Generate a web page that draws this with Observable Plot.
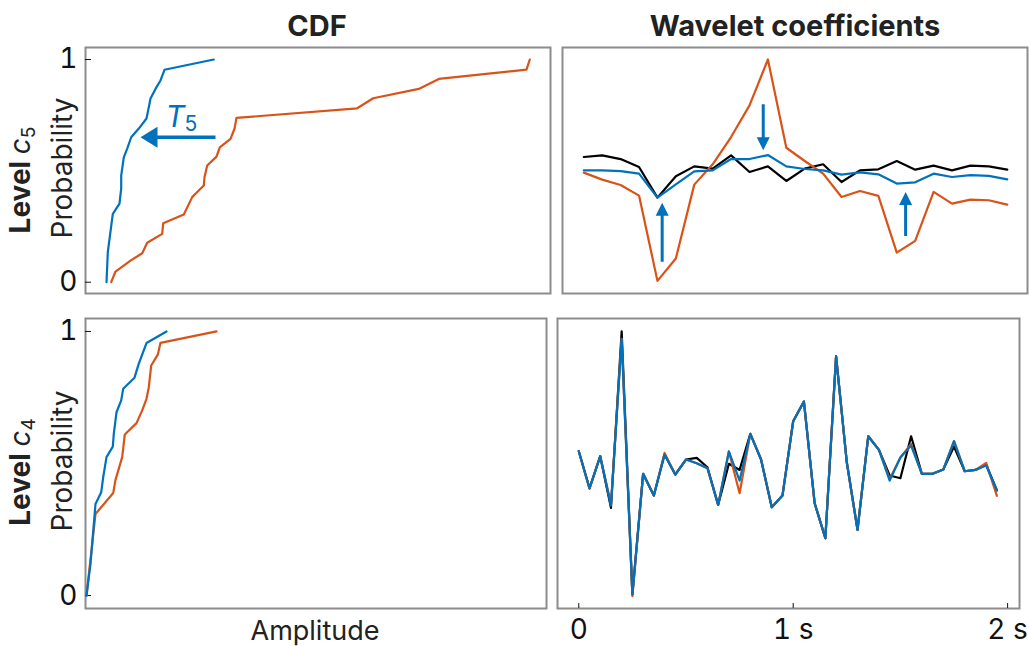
<!DOCTYPE html>
<html><head><meta charset="utf-8">
<script src="https://cdn.jsdelivr.net/npm/d3@7"></script>
<script src="https://cdn.jsdelivr.net/npm/@observablehq/plot@0.6"></script>
<style>
html,body{margin:0;padding:0;background:#fff;}
#fig{position:relative;width:1029px;height:646px;overflow:hidden;font-family:Inter, sans-serif;color:#222;}
.abs{position:absolute;white-space:nowrap;line-height:1;}
.title{font-weight:700;font-size:29px;transform:translate(-50%,-50%);}
.ylab{font-size:28px;transform:translate(-50%,-50%) rotate(-90deg);}
.lev{font-size:28px;font-weight:700;transform:translate(-50%,-50%) rotate(-90deg);}
.lev i{font-weight:400;}
.lev sub{font-weight:400;font-size:19px;vertical-align:-5px;}
.xlab{font-size:27px;transform:translate(-50%,-50%);}
</style></head><body><div id="fig"></div><script>
const BLUE = "#0072BD", ORANGE = "#D95319", BLACK = "#000000";

// ---- Level c5 CDF (amplitude, probability) ----
const c5BlueAmp  = [0.21,0.223,0.273,0.34,0.357,0.357,0.383,0.417,0.457,0.533,0.61,0.633,0.65,0.71,0.75,0.79,1.283];
const c5BlueProb = [0,0.135,0.307,0.353,0.421,0.479,0.561,0.600,0.651,0.690,0.735,0.786,0.825,0.876,0.906,0.954,1.0];
const c5OrangeAmp  = [0.257,0.30,0.45,0.567,0.617,0.767,0.777,0.983,1.067,1.10,1.183,1.19,1.217,1.31,1.343,1.45,1.49,1.51,2.717,2.877,3.333,3.533,4.41,4.443];
const c5OrangeProb = [0,0.048,0.097,0.130,0.177,0.217,0.265,0.304,0.382,0.397,0.434,0.471,0.524,0.564,0.606,0.644,0.689,0.738,0.781,0.826,0.868,0.913,0.955,1.0];

// ---- Level c4 CDF ----
const c4BlueAmp  = [0.01,0.05,0.10,0.157,0.177,0.21,0.273,0.283,0.31,0.357,0.377,0.49,0.533,0.61,0.81];
const c4BlueProb = [0,0.120,0.347,0.391,0.448,0.524,0.564,0.612,0.694,0.739,0.783,0.825,0.878,0.956,1.0];
const c4OrangeAmp  = [0.01,0.10,0.277,0.30,0.367,0.393,0.51,0.567,0.61,0.633,0.657,0.723,0.75,1.31];
const c4OrangeProb = [0,0.309,0.388,0.438,0.524,0.610,0.653,0.701,0.745,0.789,0.871,0.912,0.957,1.0];

// ---- Level c5 wavelet coefficients (24 samples) ----
const c5Index = [0,1,2,3,4,5,6,7,8,9,10,11,12,13,14,15,16,17,18,19,20,21,22,23];
const c5Black  = [0.146,0.160,0.128,0.058,-0.210,-0.023,0.064,0.044,0.160,0.015,0.064,-0.064,0.044,0.082,-0.073,0.029,0.038,0.111,0.035,0.070,0.029,0.070,0.064,0.035];
const c5Blue   = [0.029,0.029,0.023,0,-0.210,-0.093,0.020,0.029,0.128,0.128,0.163,0.064,0.041,0.029,-0.009,0.012,-0.006,-0.087,-0.076,0,-0.029,-0.012,-0.020,-0.050];
const c5Orange = [0.009,-0.052,-0.099,-0.192,-0.939,-0.743,-0.096,0.082,0.321,0.598,1.0,0.227,0.111,0,-0.204,-0.152,-0.195,-0.691,-0.589,-0.160,-0.262,-0.227,-0.233,-0.271];

// ---- Level c4 wavelet coefficients (40 samples, seconds) ----
const c4Time = [0,0.05,0.1,0.15,0.2,0.25,0.3,0.35,0.4,0.45,0.5,0.55,0.6,0.65,0.7,0.75,0.8,0.85,0.9,0.95,1.0,1.05,1.1,1.15,1.2,1.25,1.3,1.35,1.4,1.45,1.5,1.55,1.6,1.65,1.7,1.75,1.8,1.85,1.9,1.95];
const c4Black  = [0.123,-0.162,0.085,-0.313,1.046,-0.979,-0.051,-0.218,0.097,-0.056,0.059,0.072,0,-0.290,0.026,-0.021,0.256,0.059,-0.308,-0.218,0.354,0.505,-0.277,-0.546,0.854,0.038,-0.482,0.238,0.133,-0.064,-0.085,0.238,-0.051,-0.051,-0.018,0.159,-0.031,-0.021,0.021,-0.179];
const c4Orange = [0.123,-0.167,0.085,-0.282,0.987,-0.992,-0.051,-0.218,0.110,-0.056,0.059,0.031,-0.008,-0.290,0.121,-0.200,0.256,0.064,-0.308,-0.218,0.354,0.505,-0.277,-0.546,0.854,0.038,-0.482,0.238,0.133,-0.090,0.072,0.179,-0.051,-0.051,-0.018,0.200,-0.031,-0.021,0.033,-0.221];
const c4Blue   = [0.123,-0.162,0.085,-0.295,0.987,-0.979,-0.051,-0.218,0.097,-0.056,0.059,0.031,-0.008,-0.290,0.121,-0.103,0.256,0.059,-0.308,-0.218,0.354,0.505,-0.277,-0.546,0.854,0.038,-0.482,0.238,0.133,-0.103,0.077,0.167,-0.051,-0.051,-0.018,0.200,-0.031,-0.021,0.013,-0.179];

// ---- tick labels & annotations ----
const probTicks = [0, 1];
const timeTicks = [0, 1, 2];
const timeTickLabels = ["0", "1 s", "2 s"];
const cdfArrow = [{x: 0.55, y: 0.651, len: 75, rot: -90}];
const coefArrows = [
  {x: 4.257, y: -0.254, len: 59, rot: 0},
  {x: 9.746, y: 0.204, len: 46, rot: 180},
  {x: 17.48, y: -0.160, len: 44, rot: 0}
];
const tLabel = [{x: 0.80, y: 0.699, t: "T"}];
const tSub = [{x: 0.99, y: 0.677, t: "5"}];

const zip = (xs, ys) => xs.map((x, i) => ({x, y: ys[i]}));

function arrowShape(headLen, headW, shaftW) {
  return {draw(ctx, l) {
    const b = l - headLen, s = shaftW / 2, h = headW / 2;
    ctx.moveTo(-s, 0); ctx.lineTo(-s, -b); ctx.lineTo(-h, -b); ctx.lineTo(0, -l);
    ctx.lineTo(h, -b); ctx.lineTo(s, -b); ctx.lineTo(s, 0); ctx.closePath();
  }};
}

const baseStyle = {fontFamily: "Inter, sans-serif", fontSize: "28px", color: "#111", background: "transparent", overflow: "visible"};
const frameMark = () => Plot.frame({stroke: "#8c8c8c", strokeWidth: 2});
const lineOpts = (c) => ({x: "x", y: "y", stroke: c, strokeWidth: 2.2});

const fig = document.getElementById("fig");
function place(svg, left, top) {
  svg.style.position = "absolute"; svg.style.left = left + "px"; svg.style.top = top + "px";
  fig.appendChild(svg);
}

// Top-left: CDF c5
place(Plot.plot({
  width: 507, height: 250, marginLeft: 40, marginRight: 2, marginTop: 2, marginBottom: 2,
  style: baseStyle,
  x: {domain: [0, 4.65], axis: null},
  y: {domain: [-0.0507, 1.054]},
  marks: [
    frameMark(),
    Plot.axisY({ticks: probTicks, tickSize: -6, tickPadding: 14, tickFormat: d3.format("d"), label: null}),
    Plot.line(zip(c5OrangeAmp, c5OrangeProb), lineOpts(ORANGE)),
    Plot.line(zip(c5BlueAmp, c5BlueProb), lineOpts(BLUE)),
    ...cdfArrow.map(a => Plot.vector([a], {x: "x", y: "y", length: a.len, rotate: a.rot, anchor: "end", shape: arrowShape(17, 21, 3.5), fill: BLUE, stroke: "none"})),
    Plot.text(tLabel, {x: "x", y: "y", text: "t", fill: BLUE, fontSize: 30, fontStyle: "italic", textAnchor: "start", lineAnchor: "bottom"}),
    Plot.text(tSub, {x: "x", y: "y", text: "t", fill: BLUE, fontSize: 21, textAnchor: "start", lineAnchor: "bottom"})
  ]
}), 45, 45);

// Top-right: coefficients c5
place(Plot.plot({
  width: 469, height: 250, marginLeft: 2, marginRight: 2, marginTop: 2, marginBottom: 2,
  style: baseStyle,
  x: {domain: [-1.157, 24.10], axis: null},
  y: {domain: [-1.0496, 1.105], axis: null},
  marks: [
    frameMark(),
    Plot.line(zip(c5Index, c5Black), lineOpts(BLACK)),
    Plot.line(zip(c5Index, c5Orange), lineOpts(ORANGE)),
    Plot.line(zip(c5Index, c5Blue), lineOpts(BLUE)),
    ...coefArrows.map(a => Plot.vector([a], {x: "x", y: "y", length: a.len, rotate: a.rot, anchor: "end", shape: arrowShape(13, 13, 3), fill: BLUE, stroke: "none"}))
  ]
}), 560, 45);

// Bottom-left: CDF c4
place(Plot.plot({
  width: 503, height: 294, marginLeft: 40, marginRight: 2, marginTop: 2, marginBottom: 2,
  style: baseStyle,
  x: {domain: [0, 4.61], axis: null},
  y: {domain: [-0.049, 1.049]},
  marks: [
    frameMark(),
    Plot.axisY({ticks: probTicks, tickSize: -6, tickPadding: 14, tickFormat: d3.format("d"), label: null}),
    Plot.line(zip(c4OrangeAmp, c4OrangeProb), lineOpts(ORANGE)),
    Plot.line(zip(c4BlueAmp, c4BlueProb), lineOpts(BLUE))
  ]
}), 45, 316);

// Bottom-right: coefficients c4
place(Plot.plot({
  width: 474, height: 329, marginLeft: 2, marginRight: 10, marginTop: 2, marginBottom: 37,
  style: baseStyle,
  x: {domain: [-0.0993, 2.0555]},
  y: {domain: [-1.087, 1.144], axis: null},
  marks: [
    frameMark(),
    Plot.axisX({ticks: timeTicks, tickSize: -5, tickPadding: 16, tickFormat: (d, i) => timeTickLabels[i], label: null}),
    Plot.line(zip(c4Time, c4Black), lineOpts(BLACK)),
    Plot.line(zip(c4Time, c4Orange), lineOpts(ORANGE)),
    Plot.line(zip(c4Time, c4Blue), lineOpts(BLUE))
  ]
}), 555, 316);

// Text labels
function label(html, cls, x, y) {
  const d = document.createElement("div");
  d.className = "abs " + cls; d.innerHTML = html;
  d.style.left = x + "px"; d.style.top = y + "px";
  fig.appendChild(d);
}
label("CDF", "title", 317, 25);
label("Wavelet coefficients", "title", 795, 25);
label("Level <i>c</i><sub>5</sub>", "lev", 22, 180);
label("Probability", "ylab", 62, 168);
label("Level <i>c</i><sub>4</sub>", "lev", 22, 472);
label("Probability", "ylab", 62, 461);
label("Amplitude", "xlab", 315, 630);
</script></body></html>
